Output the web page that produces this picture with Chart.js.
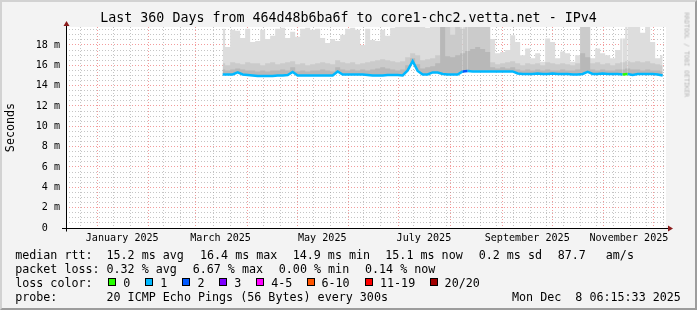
<!DOCTYPE html>
<html>
<head>
<meta charset="utf-8">
<script src="https://cdn.jsdelivr.net/npm/chart.js@4.4.1/dist/chart.umd.min.js"></script>
<style>
body { margin: 0; background: #f3f3f3; }
#wrap { position: relative; width: 697px; height: 310px; overflow: hidden; font-family: 'DejaVu Sans Mono', monospace; color: #000; }
#frame { position: absolute; left: 0; top: 0; width: 697px; height: 310px; box-sizing: border-box;
  border-left: 2px solid #d2d2d2; border-top: 2px solid #d2d2d2; border-right: 2px solid #9c9c9c; border-bottom: 2px solid #9c9c9c; pointer-events: none; }
canvas { position: absolute; left: 0; top: 0; }
#title { position: absolute; left: 0; top: 10px; width: 697px; text-align: center; font-size: 13.3px; line-height: 16px; white-space: pre; }
.t { position: absolute; white-space: pre; font-size: 11.7px; line-height: 14px; }
.sw { position: absolute; top: 278px; width: 8px; height: 8px; box-sizing: border-box; border: 1px solid #000; }
#wm { position: absolute; left: 645px; top: 50px; width: 82px; height: 7px; line-height: 7px; font-size: 6.4px; text-align: center;
  color: #b4b4b4; white-space: pre; transform: rotate(90deg); }
</style>
</head>
<body>
<div id="wrap">
  <canvas id="myChart" width="697" height="310"></canvas>
  <div id="title">Last 360 Days from 464d48b6ba6f to core1-chc2.vetta.net - IPv4</div>
  <div id="wm">RRDTOOL / TOBI OETIKER</div>

  <div class="t" style="left:15.2px;top:248px">median rtt:</div>
  <div class="t" style="left:106.5px;top:248px">15.2 ms avg</div>
  <div class="t" style="left:200px;top:248px">16.4 ms max</div>
  <div class="t" style="left:292.7px;top:248px">14.9 ms min</div>
  <div class="t" style="left:385.3px;top:248px">15.1 ms now</div>
  <div class="t" style="left:478.7px;top:248px">0.2 ms sd</div>
  <div class="t" style="left:557.7px;top:248px">87.7</div>
  <div class="t" style="left:605.8px;top:248px">am/s</div>

  <div class="t" style="left:15.2px;top:262px">packet loss:</div>
  <div class="t" style="left:106.5px;top:262px">0.32 % avg</div>
  <div class="t" style="left:192.7px;top:262px">6.67 % max</div>
  <div class="t" style="left:278.8px;top:262px">0.00 % min</div>
  <div class="t" style="left:365px;top:262px">0.14 % now</div>

  <div class="t" style="left:15.2px;top:276px">loss color:</div>
  <div id="lossLegend"></div>

  <div class="t" style="left:15.2px;top:289.7px">probe:</div>
  <div class="t" style="left:106.5px;top:289.7px">20 ICMP Echo Pings (56 Bytes) every 300s</div>
  <div class="t" style="left:512px;top:289.7px">Mon Dec  8 06:15:33 2025</div>
  <div id="frame"></div>
</div>
<script>
// days since the start of the 360 day window (Dec 13 2024 06:15:33)
const days = [94, 97, 100, 103, 106, 109, 112, 115, 118, 121, 124, 127, 130, 133, 136, 139, 142, 145, 148, 151,
  154, 157, 160, 163, 166, 169, 172, 175, 178, 181, 184, 187, 190, 193, 196, 199, 202, 205, 208, 211,
  214, 217, 220, 223, 226, 229, 232, 235, 238, 241, 244, 247, 250, 253, 256, 259, 262, 265, 268, 271,
  274, 277, 280, 283, 286, 289, 292, 295, 298, 301, 304, 307, 310, 313, 316, 319, 322, 325, 328, 331,
  334, 337, 340, 343, 346, 349, 352, 355, 358];

// median rtt (ms)
const medianRtt = [15.1, 15.1, 15.1, 15.3, 15.1, 15.05, 15.0, 14.95, 14.95, 14.95, 14.95, 15.0, 15.0, 15.05, 15.35, 15.0, 15.0, 15.0, 15.0, 15.0,
  15.0, 15.0, 15.0, 15.4, 15.1, 15.1, 15.1, 15.1, 15.1, 15.05, 15.0, 15.0, 15.0, 15.05, 15.05, 15.05, 15.0, 15.5, 16.4, 15.45,
  15.1, 15.1, 15.3, 15.3, 15.15, 15.1, 15.1, 15.1, 15.4, 15.45, 15.4, 15.4, 15.4, 15.4, 15.4, 15.4, 15.4, 15.4, 15.4, 15.2,
  15.15, 15.15, 15.15, 15.2, 15.15, 15.15, 15.2, 15.15, 15.15, 15.15, 15.1, 15.1, 15.15, 15.35, 15.15, 15.15, 15.2, 15.15, 15.15, 15.15,
  15.1, 15.15, 15.05, 15.15, 15.15, 15.15, 15.15, 15.1, 15.0];

// lost pings per median sample (index into lossColors)
const lossIndex = [1, 1, 1, 1, 1, 1, 1, 1, 1, 1, 1, 1, 1, 1, 1, 1, 1, 1, 1, 1,
  1, 1, 1, 1, 1, 1, 1, 1, 1, 1, 1, 1, 1, 1, 1, 1, 1, 1, 1, 1,
  1, 1, 1, 1, 1, 1, 1, 1, 2, 1, 1, 1, 1, 1, 1, 1, 1, 1, 1, 1,
  1, 1, 1, 1, 1, 1, 1, 1, 1, 1, 1, 1, 1, 1, 1, 1, 1, 1, 1, 1,
  0, 1, 1, 1, 1, 1, 1, 1, 1];

// smoke: upper edges of the dark, medium and light bands (ms)
const smokeDark = [15.6, 15.5, 15.6, 15.7, 15.6, 15.5, 15.5, 15.4, 15.5, 15.4, 15.5, 15.5, 15.6, 15.5, 15.8, 15.4, 15.5, 15.4, 15.5, 15.5,
  15.6, 15.5, 15.4, 15.8, 15.6, 15.5, 15.6, 15.5, 15.6, 15.5, 15.6, 15.7, 15.8, 15.7, 15.6, 15.5, 15.6, 16.0, 16.7, 16.1,
  15.7, 15.8, 15.9, 16.2, 19.77, 16.9, 16.8, 17.0, 17.2, 17.4, 17.6, 17.8, 17.6, 17.3, 15.8, 15.7, 15.8, 15.7, 15.8, 15.6,
  15.5, 15.6, 15.5, 15.6, 15.5, 15.6, 15.5, 15.5, 15.6, 15.5, 15.5, 15.6, 17.2, 16.8, 15.6, 15.5, 15.6, 15.5, 15.5, 15.6,
  15.6, 15.7, 15.6, 15.6, 15.5, 15.6, 15.5, 15.5, 15.4];

const smokeMid = [16.2, 16.0, 16.3, 16.2, 16.1, 16.3, 16.2, 16.2, 16.0, 16.2, 16.3, 16.1, 16.2, 16.3, 16.4, 16.1, 16.2, 16.0, 16.1, 16.2,
  16.3, 16.2, 16.1, 16.5, 16.3, 16.2, 16.3, 16.1, 16.2, 16.3, 16.4, 16.5, 16.6, 16.5, 16.4, 16.3, 16.4, 16.8, 17.2, 17.0,
  16.5, 16.6, 16.7, 17.0, 19.77, 19.77, 19.0, 19.77, 19.6, 19.77, 19.77, 19.77, 19.77, 19.77, 16.3, 16.1, 16.2, 16.3, 16.4, 16.2,
  16.0, 16.2, 16.1, 16.2, 16.0, 16.3, 16.2, 16.1, 16.2, 16.1, 16.0, 16.2, 19.77, 19.77, 16.2, 16.3, 16.1, 16.2, 16.0, 16.2,
  16.3, 16.4, 16.3, 16.4, 16.3, 16.4, 16.2, 16.1, 16.0];

const smokeMax = [19.6, 17.8, 19.5, 19.4, 18.7, 19.6, 18.3, 18.4, 19.5, 18.6, 18.9, 19.6, 19.7, 18.7, 19.3, 18.8, 19.6, 19.7, 19.5, 19.6,
  18.7, 18.2, 18.6, 18.4, 19.0, 19.6, 19.7, 19.5, 18.0, 19.6, 18.5, 18.4, 19.5, 18.9, 19.7, 19.77, 19.77, 19.77, 19.77, 19.77,
  19.77, 19.7, 19.77, 19.77, 19.77, 19.77, 19.77, 19.77, 19.77, 19.77, 19.77, 19.77, 19.77, 19.77, 18.6, 17.2, 17.3, 17.5, 18.95, 18.3,
  17.0, 17.65, 16.7, 17.2, 16.35, 18.65, 18.3, 16.7, 17.35, 17.2, 16.35, 17.0, 19.77, 19.77, 16.7, 17.65, 17.2, 17.0, 16.7, 17.5,
  18.65, 19.77, 19.77, 19.77, 19.2, 19.77, 18.3, 16.7, 17.0];

const lossColors = ['#26ff00', '#00b8ff', '#0059ff', '#7e00ff', '#ff00ff', '#ff5500', '#ff0000', '#a10000'];
const lossLabels = ['0', '1', '2', '3', '4-5', '6-10', '11-19', '20/20'];

// x axis labels, every second month
const tickLabels = ['January 2025', 'March 2025', 'May 2025', 'July 2025', 'September 2025', 'November 2025'];
const tickMonths = [0, 2, 4, 6, 8, 10];
const yMax = 19.77;

// legend swatches
const swatchX = [108, 145, 182, 219, 256, 307, 365, 430];
const swatchLabelX = [123.3, 160.3, 197.5, 234.3, 271.3, 321.5, 380, 444.6];
const lossLegend = document.getElementById('lossLegend');
lossColors.forEach((c, i) => {
    const sw = document.createElement('div');
    sw.className = 'sw';
    sw.style.left = swatchX[i] + 'px';
    sw.style.background = c;
    lossLegend.appendChild(sw);
    const lb = document.createElement('div');
    lb.className = 't';
    lb.style.left = swatchLabelX[i] + 'px';
    lb.style.top = '276px';
    lb.textContent = lossLabels[i];
    lossLegend.appendChild(lb);
});

// time helpers for the grid
const startMs = Date.UTC(2024, 11, 13, 6, 15, 33);
const dayOf = (y, m, d) => (Date.UTC(y, m, d) - startMs) / 86400000;

const monthStarts = [];
for (let m = 0; m < 12; m++) monthStarts.push(dayOf(2025, m, 1));
const minorDays = [];
for (let d = 8.4; d < 360; d += 10) {
    if (!monthStarts.some(ms => Math.abs(ms - d) < 1.5)) minorDays.push(d);
}
const labelDays = tickMonths.map(m => dayOf(2025, m, 16));

const xTicks = [];
monthStarts.forEach(v => xTicks.push({ value: v, kind: 'major' }));
minorDays.forEach(v => xTicks.push({ value: v, kind: 'minor' }));
labelDays.forEach((v, i) => xTicks.push({ value: v, kind: 'label', text: tickLabels[i] }));
xTicks.sort((a, b) => a.value - b.value);

const yTicks = [];
for (let i = 0; i * 0.5 < yMax; i++) yTicks.push(i * 0.5);

const toPoints = arr => arr.map((v, i) => ({ x: days[i], y: v }));

const MAJOR = 'rgba(235, 90, 90, 0.6)';
const MINOR = 'rgba(150, 150, 150, 0.55)';
const monoFont = { family: "'DejaVu Sans Mono', monospace", size: 10.1 };

// white canvas behind the plot, axes and arrows on top
const rrdFrame = {
    id: 'rrdFrame',
    beforeDraw(chart) {
        const { ctx, chartArea: a } = chart;
        ctx.save();
        ctx.fillStyle = '#ffffff';
        ctx.fillRect(a.left, a.top, a.right - a.left, a.bottom - a.top);
        ctx.restore();
    },
    afterDraw(chart) {
        const { ctx, chartArea: a } = chart;
        const x0 = Math.round(a.left) + 0.5;
        const y0 = Math.round(a.bottom) + 0.5;
        ctx.save();
        ctx.strokeStyle = '#000000';
        ctx.lineWidth = 1;
        ctx.beginPath();
        ctx.moveTo(62, y0);
        ctx.lineTo(a.right + 2, y0);
        ctx.moveTo(x0, y0 + 3);
        ctx.lineTo(x0, a.top - 1);
        ctx.stroke();
        ctx.fillStyle = '#8b1c1c';
        ctx.beginPath();
        ctx.moveTo(a.right + 2, y0 - 3);
        ctx.lineTo(a.right + 7, y0);
        ctx.lineTo(a.right + 2, y0 + 3);
        ctx.closePath();
        ctx.fill();
        ctx.beginPath();
        ctx.moveTo(x0 - 3, a.top - 1);
        ctx.lineTo(x0, a.top - 6);
        ctx.lineTo(x0 + 3, a.top - 1);
        ctx.closePath();
        ctx.fill();
        ctx.restore();
    }
};

const ctx = document.getElementById('myChart').getContext('2d');
new Chart(ctx, {
    type: 'line',
    data: {
        datasets: [
            {
                label: 'median',
                data: toPoints(medianRtt),
                borderColor: lossColors[1],
                borderWidth: 2.5,
                segment: { borderColor: c => lossColors[lossIndex[c.p0DataIndex]] },
                pointRadius: 0,
                fill: false,
                order: 0
            },
            {
                label: 'smoke max',
                data: toPoints(smokeMax),
                borderWidth: 0,
                pointRadius: 0,
                stepped: 'middle',
                backgroundColor: '#dddddd',
                fill: 0,
                order: 3
            },
            {
                label: 'smoke mid',
                data: toPoints(smokeMid),
                borderWidth: 0,
                pointRadius: 0,
                stepped: 'middle',
                backgroundColor: '#cbcbcb',
                fill: 0,
                order: 2
            },
            {
                label: 'smoke dark',
                data: toPoints(smokeDark),
                borderWidth: 0,
                pointRadius: 0,
                stepped: 'middle',
                backgroundColor: '#b8b8b8',
                fill: 0,
                order: 1
            }
        ]
    },
    options: {
        responsive: false,
        animation: false,
        layout: { padding: { left: 0, right: 31, top: 27, bottom: 60 } },
        plugins: { legend: { display: false }, tooltip: { enabled: false } },
        scales: {
            x: {
                type: 'linear',
                min: 0,
                max: 360,
                z: 1,
                afterFit: s => { s.height = 22; },
                afterBuildTicks: s => { s.ticks = xTicks.map(t => ({ value: t.value })); },
                grid: {
                    drawTicks: false,
                    color: c => {
                        const t = xTicks[c.index];
                        if (!t) return 'rgba(0,0,0,0)';
                        return t.kind === 'major' ? MAJOR : (t.kind === 'minor' ? MINOR : 'rgba(0,0,0,0)');
                    }
                },
                border: { display: false, dash: [1, 2] },
                ticks: {
                    autoSkip: false,
                    maxRotation: 0,
                    padding: 4,
                    color: '#000',
                    font: monoFont,
                    callback: (v, i) => (xTicks[i] && xTicks[i].kind === 'label') ? xTicks[i].text : ''
                }
            },
            y: {
                min: 0,
                max: yMax,
                z: 1,
                afterFit: s => { s.width = 66; },
                afterBuildTicks: s => { s.ticks = yTicks.map(v => ({ value: v })); },
                grid: {
                    drawTicks: false,
                    color: c => (c.tick && c.tick.value % 2 === 0) ? MAJOR : MINOR
                },
                border: { display: false, dash: [1, 2] },
                title: {
                    display: true,
                    text: 'Seconds',
                    color: '#000',
                    font: { family: "'DejaVu Sans Mono', monospace", size: 11.7 },
                    padding: { top: 4, bottom: 0 }
                },
                ticks: {
                    autoSkip: false,
                    padding: 6,
                    color: '#000',
                    font: monoFont,
                    callback: v => (v % 2 === 0) ? (v === 0 ? '0  ' : v + ' m') : ''
                }
            }
        }
    },
    plugins: [rrdFrame]
});
</script>
</body>
</html>
